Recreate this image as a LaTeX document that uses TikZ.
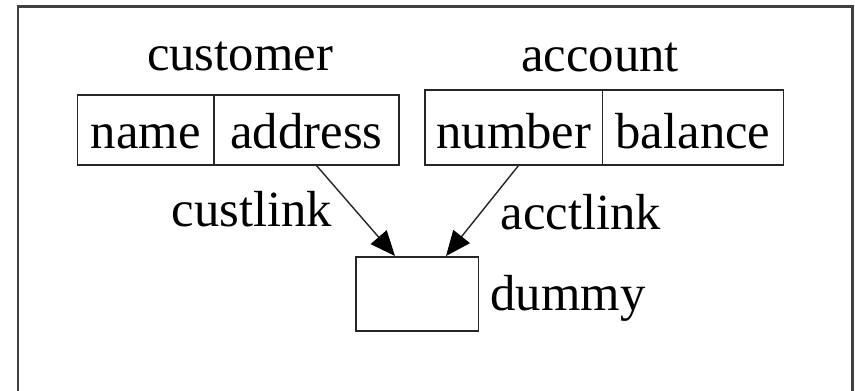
\documentclass[tikz,border=0pt]{standalone}
\usepackage{fontspec}
\setmainfont{Liberation Serif}
\usetikzlibrary{arrows.meta}
\begin{document}
\begin{tikzpicture}[x=1pt,y=-1pt,
  every node/.style={font=\fontsize{50.7}{60}\selectfont},
  cellbox/.style={draw=black!85,line width=1.5pt,inner sep=0pt,text depth=0pt,anchor=center},
  lbl/.style={anchor=base,inner sep=0pt},
  link/.style={draw=black!85,line width=1.4pt,-{Triangle[length=25pt,width=21pt,color=black,fill=black]}}]
\useasboundingbox (0,0) rectangle (855,391);
\begin{scope}
\clip (0,0) rectangle (855,391);
\draw[black!75,line width=2.2pt] (18,400) -- (18,6.5) -- (852.5,6.5) -- (852.5,400);
\end{scope}
% customer table
\node[cellbox,minimum width=136.3pt,minimum height=70pt,text height=36pt] (name) at (145.85,130) {name};
\node[cellbox,minimum width=185pt,minimum height=70pt,text height=36pt] (address) at (306.5,130) {address};
% account table
\node[cellbox,minimum width=177.7pt,minimum height=75pt,text height=41pt] (number) at (513.85,127.5) {number};
\node[cellbox,minimum width=180.6pt,minimum height=75pt,text height=41pt] (balance) at (693,127.5) {balance};
% dummy
\node[cellbox,minimum width=122.3pt,minimum height=74.3pt] (dummy) at (417.2,293.9) {};
% labels
\node[lbl] (customer) at (240,70) {customer};
\node[lbl] (account) at (600,71) {account};
\node[lbl] (custlink) at (252,226.7) {custlink};
\node[lbl] (acctlink) at (581,229.3) {acctlink};
\node[lbl] (dummylbl) at (568,310) {dummy};
% links
\draw[link] ([xshift=10.2pt]address.south) -- ([xshift=-22.2pt]dummy.north);
\draw[link] ([xshift=4.5pt]number.south) -- ([xshift=28.8pt]dummy.north);
\end{tikzpicture}
\end{document}
